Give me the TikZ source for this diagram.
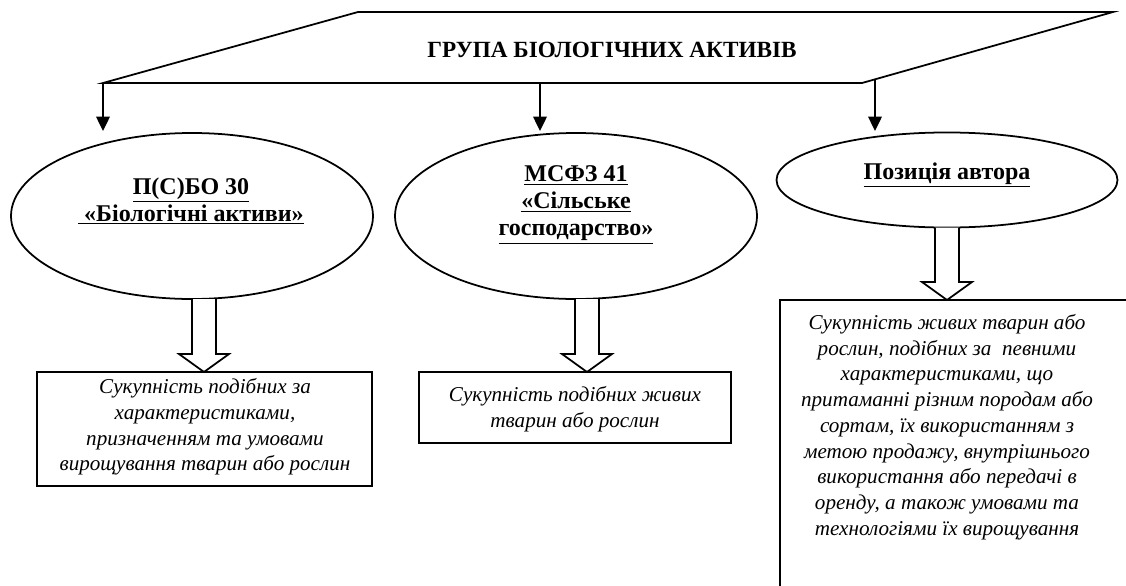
\documentclass[tikz,border=0pt]{standalone}
\usepackage{fontspec}
\setmainfont{Liberation Serif}
\usetikzlibrary{arrows.meta,calc,shapes.geometric}
\begin{document}
\begin{tikzpicture}[x=0.625pt,y=-0.625pt,
  line width=1.1pt,
  oval/.style={draw, ellipse, inner sep=0pt, outer sep=0pt},
  etext/.style={font=\bfseries\fontsize{15pt}{17pt}\selectfont, align=center, inner sep=0pt},
  ttext/.style={font=\bfseries\fontsize{14.5pt}{17pt}\selectfont, inner sep=0pt},
  itext/.style={font=\itshape\fontsize{13.2pt}{16.1pt}\selectfont, align=center, inner sep=0pt},
  boxst/.style={draw, line width=1.2pt, inner sep=0pt, outer sep=0pt, anchor=north west},
  thinarrow/.style={-{Triangle[width=8.5pt,length=9pt]}, line width=1.1pt},
  hollow/.style={draw, fill=white, line width=1.1pt, line join=miter}]
\useasboundingbox (0,0) rectangle (1126,585);
\clip (0,0) rectangle (1126,585);

% top parallelogram
\coordinate (p1) at (103,83);
\coordinate (p2) at (358,12);
\coordinate (p3) at (1113,12);
\coordinate (p4) at (862,83);
\draw (p1) -- (p2) -- (p3) -- (p4) -- cycle;
\node[ttext] (title) at (612,50) {ГРУПА БІОЛОГІЧНИХ АКТИВІВ};

% ellipses
\node[oval, minimum width=226.25pt, minimum height=103.75pt] (e1) at (192,216) {};
\node[etext] (e1t) at (191,201) {\underline{П(С)БО 30}\\\underline{\ «Біологічні активи»}};
\node[oval, minimum width=226.25pt, minimum height=103.75pt] (e2) at (576,216) {};
\node[etext] (e2t) at (576,205) {\underline{МСФЗ 41}\\\underline{«Сільське}\\\underline{господарство»}};
\node[oval, minimum width=213.1pt, minimum height=59.4pt] (e3) at (947,180) {};
\node[etext] (e3t) at (947,175) {\underline{Позиція автора}};

% arrows from the parallelogram
\coordinate (a1s) at (103,83);
\coordinate (a1e) at (103,131);
\coordinate (a2s) at (540,83);
\coordinate (a2e) at (540,131);
\coordinate (a3s) at (875,79);
\coordinate (a3e) at (875,131);
\draw[thinarrow] (a1s) -- (a1e);
\draw[thinarrow] (a2s) -- (a2e);
\draw[thinarrow] (a3s) -- (a3e);

% boxes
\node[boxst, minimum width=209.4pt, minimum height=71.25pt] (b1) at (37,372) {};
\node[itext] (b1t) at (205,427) {Сукупність подібних за\\характеристиками,\\призначенням та умовами\\вирощування тварин або рослин};
\node[boxst, minimum width=195pt, minimum height=44.4pt] (b2) at (419,372) {};
\node[itext] (b2t) at (575,409) {Сукупність подібних живих\\тварин або рослин};
\node[boxst, minimum width=231.25pt, minimum height=187.5pt] (b3) at (780,300) {};
\node[itext] (b3t) at (947,427) {Сукупність живих тварин або\\рослин, подібних за~ певними\\характеристиками, що\\притаманні різним породам або\\сортам, їх використанням з\\метою продажу, внутрішнього\\використання або передачі в\\оренду, а також умовами та\\технологіями їх вирощування};

% hollow arrows
\coordinate (h1) at (204,372);
\coordinate (h2) at (587,372);
\coordinate (h3) at (947,300);
\draw[hollow] ($(h1|-e1.south)+(-12,0)$) -- ($(h1)+(-12,-18)$) -- ($(h1)+(-25,-18)$) -- (h1) -- ($(h1)+(25,-18)$) -- ($(h1)+(12,-18)$) -- ($(h1|-e1.south)+(12,0)$);
\draw[hollow] ($(h2|-e2.south)+(-12,0)$) -- ($(h2)+(-12,-18)$) -- ($(h2)+(-25,-18)$) -- (h2) -- ($(h2)+(25,-18)$) -- ($(h2)+(12,-18)$) -- ($(h2|-e2.south)+(12,0)$);
\draw[hollow] ($(h3|-e3.south)+(-12,0)$) -- ($(h3)+(-12,-18)$) -- ($(h3)+(-25,-18)$) -- (h3) -- ($(h3)+(25,-18)$) -- ($(h3)+(12,-18)$) -- ($(h3|-e3.south)+(12,0)$);
\end{tikzpicture}
\end{document}
